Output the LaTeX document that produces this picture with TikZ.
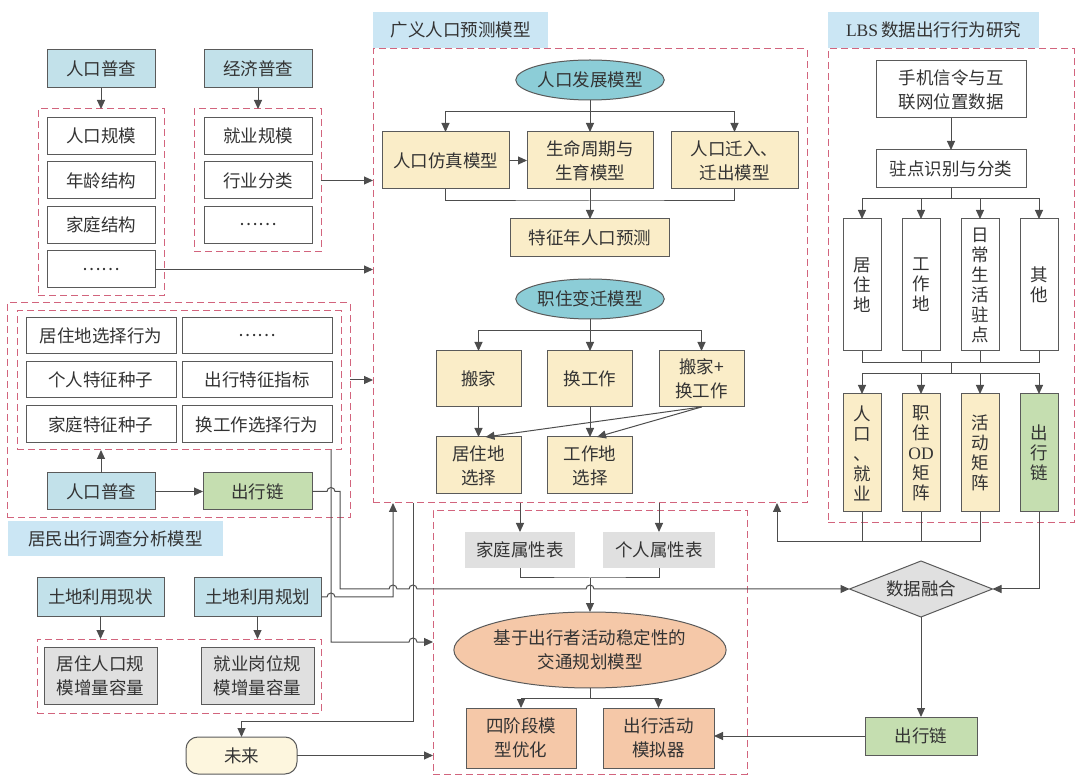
\documentclass[tikz,border=0pt]{standalone}
\usepackage{fontspec}
\setmainfont{Noto Sans CJK SC}
\newfontfamily\lserif{Liberation Serif}
\usepackage{tikz}
\usetikzlibrary{shapes}
\usetikzlibrary{arrows.meta}
\usetikzlibrary{calc}

\definecolor{cblue}{HTML}{C2E1EA}
\definecolor{ctag}{HTML}{CBE6F4}
\definecolor{cyel}{HTML}{FAEDC8}
\definecolor{cteal}{HTML}{8CCDD7}
\definecolor{cgrn}{HTML}{C5DEB0}
\definecolor{corg}{HTML}{F5C8A8}
\definecolor{cgry}{HTML}{E0E0E0}
\definecolor{ccrm}{HTML}{FDF6DE}
\definecolor{cdash}{HTML}{D2647D}
\definecolor{cln}{HTML}{4D4D4D}
\definecolor{cbd}{HTML}{5A5A5A}
\definecolor{ctxt}{HTML}{333333}

\newcommand{\hop}[1]{-- ($(#1)+(-4,0)$) arc[start angle=180, end angle=0, radius=4pt]}

\begin{document}
\begin{tikzpicture}[x=1pt, y=-1pt,
    base/.style={draw=cbd, line width=1pt, inner sep=0pt, outer sep=0pt, align=center, text=ctxt, font=\fontsize{17.5pt}{24pt}\selectfont},
    sz/.style 2 args={minimum width=#1pt, minimum height=#2pt},
    wbox/.style={base, fill=white},
    src/.style={base, fill=cblue},
    ybox/.style={base, fill=cyel},
    gbox/.style={base, fill=cgrn},
    obox/.style={base, fill=corg},
    hbox/.style={base, fill=cgry},
    attr/.style={base, draw=none, fill=cgry},
    tag/.style={base, draw=none, fill=ctag},
    oval/.style={base, ellipse, fill=cteal},
    vtxt/.style={font=\fontsize{17.5pt}{20pt}\selectfont},
    dbox/.style={draw=cdash, line width=1pt, dash pattern=on 7pt off 4pt, inner sep=0pt, outer sep=0pt},
    ln/.style={draw=cln, line width=1pt},
    arr/.style={ln, -{Triangle[length=9pt, width=8pt]}}]
    \path[use as bounding box] (0,0) rectangle (1080,783);

    % census
    \node[src, sz={108}{38}] (rk1) at (101,69) {人口普查};
    \node[src, sz={108}{38}] (jj) at (258,69) {经济普查};
    \node[dbox, sz={126}{187}] (dL) at (101,202.5) {};
    \node[wbox, sz={108}{37}] (gm) at (101,136) {人口规模};
    \node[wbox, sz={108}{37}] (nl) at (101,180.5) {年龄结构};
    \node[wbox, sz={108}{37}] (jtjg) at (101,225) {家庭结构};
    \node[wbox, sz={108}{37}] (dd1) at (101,269.5) {……};
    \node[dbox, sz={127}{143}] (dR) at (257.5,180.5) {};
    \node[wbox, sz={108}{37}] (jy) at (258,136) {就业规模};
    \node[wbox, sz={108}{37}] (hy) at (258,180.5) {行业分类};
    \node[wbox, sz={108}{37}] (dd2) at (258,225) {……};

    % population model
    \node[tag, sz={175}{36}] (gyt) at (460.5,30) {广义人口预测模型};
    \node[dbox, sz={434}{454}] (gy) at (590,276) {};
    \node[oval, sz={141}{40}] (fz) at (590,80) {人口发展模型};
    \node[ybox, sz={127}{57}] (fz1) at (445.5,160.5) {人口仿真模型};
    \node[ybox, sz={126}{57}] (fz2) at (590,160.5) {生命周期与\\生育模型};
    \node[ybox, sz={127}{57}] (fz3) at (734.5,160.5) {人口迁入、\\迁出模型};
    \node[ybox, sz={159}{38}] (tz) at (590,238) {特征年人口预测};
    \node[oval, sz={141}{40}] (zz) at (590,299) {职住变迁模型};
    \node[ybox, sz={85}{56}] (bj) at (478.5,379) {搬家};
    \node[ybox, sz={85}{56}] (hg) at (590,379) {换工作};
    \node[ybox, sz={85}{56}] (bh) at (701.5,379) {搬家+\\换工作};
    \node[ybox, sz={85}{57}] (jz) at (478.5,465.5) {居住地\\选择};
    \node[ybox, sz={85}{57}] (gz) at (590,465.5) {工作地\\选择};
    \coordinate (b1) at (590,112);
    \coordinate (m1) at (590,201);
    \coordinate (b2) at (590,331);

    % LBS
    \node[tag, sz={211}{36}] (lbt) at (933.5,30) {{\lserif LBS}\,数据出行行为研究};
    \node[dbox, sz={246}{474}] (lb) at (951,286) {};
    \node[wbox, sz={150}{57}] (sj) at (951,89.5) {手机信令与互\\联网位置数据};
    \node[wbox, sz={150}{38}] (zd) at (951,169) {驻点识别与分类};
    \node[wbox, vtxt, sz={38}{132}] (t1) at (862,285) {居\\住\\地};
    \node[wbox, vtxt, sz={38}{132}] (t2) at (921,285) {工\\作\\地};
    \node[wbox, vtxt, sz={38}{132}] (t3) at (980,285) {日\\常\\生\\活\\驻\\点};
    \node[wbox, vtxt, sz={38}{132}] (t4) at (1039,285) {其\\他};
    \node[ybox, vtxt, sz={38}{118}] (u1) at (862,453) {人\\口\\、\\就\\业};
    \node[ybox, vtxt, sz={38}{118}] (u2) at (921,453) {职\\住\\{\lserif OD}\\矩\\阵};
    \node[ybox, vtxt, sz={38}{118}] (u3) at (980,453) {活\\动\\矩\\阵};
    \node[gbox, vtxt, sz={38}{118}] (u4) at (1039,453) {出\\行\\链};
    \node[base, diamond, aspect=2.55, fill=cgry, sz={143}{56}] (rh) at (921,589) {数据融合};
    \node[gbox, sz={112}{38}] (cl2) at (921,736) {出行链};
    \coordinate (b3) at (951,199);
    \coordinate (m3) at (951,363);
    \coordinate (b4) at (951,374);
    \coordinate (fb) at (777,542);

    % traffic planning
    \node[dbox, sz={314}{263}] (jh) at (590,642.5) {};
    \node[attr, sz={110}{36}] (js) at (520,550) {家庭属性表};
    \node[attr, sz={112}{36}] (gr) at (659,550) {个人属性表};
    \node[base, ellipse, fill=corg, sz={240}{76}] (jm) at (590,650) {基于出行者活动稳定性的\\交通规划模型};
    \node[obox, sz={110}{60}] (sj4) at (521,738) {四阶段模\\型优化};
    \node[obox, sz={111}{60}] (mn) at (658.5,738) {出行活动\\模拟器};
    \coordinate (m5) at (590,578);
    \coordinate (b5) at (590,698);

    % travel survey
    \node[dbox, sz={343}{215}] (dO) at (178.5,410.5) {};
    \node[dbox, sz={324}{139}] (dI) at (179,380.5) {};
    \node[wbox, sz={150}{36}] (x1) at (101,336) {居住地选择行为};
    \node[wbox, sz={150}{36}] (x2) at (257,336) {……};
    \node[wbox, sz={150}{36}] (x3) at (101,380) {个人特征种子};
    \node[wbox, sz={150}{36}] (x4) at (257,380) {出行特征指标};
    \node[wbox, sz={150}{37}] (x5) at (101,424.5) {家庭特征种子};
    \node[wbox, sz={150}{37}] (x6) at (257,424.5) {换工作选择行为};
    \node[src, sz={108}{37}] (rk2) at (101,491.5) {人口普查};
    \node[gbox, sz={109}{37}] (cl1) at (257.5,491.5) {出行链};
    \node[tag, sz={215}{35}] (jmt) at (115.5,538.5) {居民出行调查分析模型};

    % land use
    \node[src, sz={127}{38}] (xz) at (100.5,597) {土地利用现状};
    \node[src, sz={127}{38}] (gh) at (257.5,597) {土地利用规划};
    \node[dbox, sz={284}{74}] (dB) at (179,676) {};
    \node[hbox, sz={113}{57}] (rl) at (100.5,675.5) {居住人口规\\模增量容量};
    \node[hbox, sz={113}{57}] (jg) at (257.5,675.5) {就业岗位规\\模增量容量};
    \node[base, rounded corners=12pt, fill=ccrm, sz={111}{37}] (wl) at (241.5,755.5) {未来};

    \coordinate (vA) at (331,0);
    \coordinate (vB) at (340,0);
    \coordinate (vC) at (393,0);
    \coordinate (vD) at (413,0);
    \coordinate (c3) at (331,642);
    \coordinate (c4) at (241.5,721);

    % connectors
    \draw[arr] (rk1.south) -- (dL.north);
    \draw[arr] (jj.south) -- (jj.south |- dR.north);
    \draw[arr] (dR.east) -- (dR.east -| gy.west);
    \draw[arr] (dd1.east) -- (dd1.east -| gy.west);

    \draw[arr] (fz.south) -- (fz2.north);
    \draw[arr] (b1) -| (fz1.north);
    \draw[arr] (b1) -| (fz3.north);
    \draw[arr] (fz1.east) -- (fz2.west);
    \draw[ln] (fz1.south) |- (m1) -| (fz3.south);
    \draw[arr] (fz2.south) -- (tz.north);
    \draw[arr] (zz.south) -- (hg.north);
    \draw[arr] (b2) -| (bj.north);
    \draw[arr] (b2) -| (bh.north);
    \draw[arr] (bj.south) -- (jz.north);
    \draw[arr] (hg.south) -- (gz.north);
    \draw[arr] (bh.south) -- ($(jz.north)+(7,0)$);
    \draw[arr] (bh.south) -- ($(gz.north)+(7,0)$);

    \draw[arr] (sj.south) -- (zd.north);
    \draw[ln] (zd.south) -- (b3);
    \foreach \n in {t1,t2,t3,t4} \draw[arr] (b3) -| (\n.north);
    \foreach \n in {t1,t2,t3,t4} \draw[ln] (\n.south) |- (m3);
    \draw[ln] (m3) -- (b4);
    \foreach \n in {u1,u2,u3,u4} \draw[arr] (b4) -| (\n.north);
    \draw[arr] (u3.south) |- (fb) -- (fb |- gy.south);
    \draw[ln] (u1.south) -- (u1.south |- fb);
    \draw[ln] (u2.south) -- (u2.south |- fb);
    \draw[arr] (u4.south) |- (rh.east);
    \draw[arr] (rh.south) -- (cl2.north);
    \draw[arr] (cl2.west) -- (cl2.west -| mn.east);

    \draw[arr] (gy.south -| js.north) -- (js.north);
    \draw[arr] (gy.south -| gr.north) -- (gr.north);
    \draw[ln] (js.south) |- (m5) -| (gr.south);
    \draw[arr] (m5) -- (jm.north);
    \draw[ln] (jm.south) -- (b5);
    \draw[arr] (b5) -| (sj4.north);
    \draw[arr] (b5) -| (mn.north);

    \draw[arr] (rk2.north) -- (rk2.north |- dI.south);
    \draw[arr] (rk2.east) -- (cl1.west);
    \draw[arr] (x4.east -| dO.east) -- (x4.east -| gy.west);
    \draw[arr] (xz.south) -- (xz.south |- dB.north);
    \draw[arr] (gh.south) -- (gh.south |- dB.north);

    \draw[arr] (cl1.east) \hop{vA |- cl1.east} -- (vB |- cl1.east) -- (vB |- rh.west) \hop{vC |- rh.west} \hop{vD |- rh.west} \hop{m5 |- rh.west} -- (rh.west);
    \draw[arr] (gh.east) \hop{vA |- gh.east} -- (vC |- gh.east) -- (vC |- gy.south);
    \draw[arr] (vA |- dI.south) -- (c3) \hop{vD |- c3} -- (c3 -| jh.west);
    \draw[arr] (vD |- gy.south) |- (c4) -- (wl.north);
    \draw[arr] (wl.east) -- (wl.east -| jh.west);
\end{tikzpicture}
\end{document}
